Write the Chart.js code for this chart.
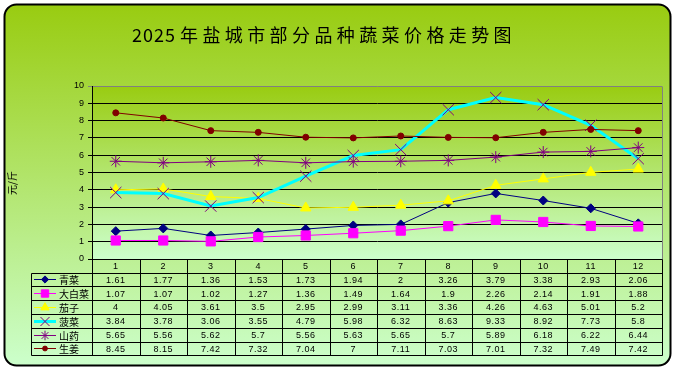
<!DOCTYPE html>
<html>
<head>
<meta charset="utf-8">
<script src="https://cdn.jsdelivr.net/npm/chart.js"></script>
<style>
  body { margin: 0; background: #fff; }
  canvas { display: block; }
</style>
</head>
<body>
<canvas id="priceChart" width="677" height="370"></canvas>
<script>
const months = ["1", "2", "3", "4", "5", "6", "7", "8", "9", "10", "11", "12"];
const seriesNames = ["青菜", "大白菜", "茄子", "菠菜", "山药", "生姜"];

const qingcai = [1.61, 1.77, 1.36, 1.53, 1.73, 1.94, 2, 3.26, 3.79, 3.38, 2.93, 2.06];
const dabaicai = [1.07, 1.07, 1.02, 1.27, 1.36, 1.49, 1.64, 1.9, 2.26, 2.14, 1.91, 1.88];
const qiezi = [4, 4.05, 3.61, 3.5, 2.95, 2.99, 3.11, 3.36, 4.26, 4.63, 5.01, 5.2];
const bocai = [3.84, 3.78, 3.06, 3.55, 4.79, 5.98, 6.32, 8.63, 9.33, 8.92, 7.73, 5.8];
const shanyao = [5.65, 5.56, 5.62, 5.7, 5.56, 5.63, 5.65, 5.7, 5.89, 6.18, 6.22, 6.44];
const shengjiang = [8.45, 8.15, 7.42, 7.32, 7.04, 7, 7.11, 7.03, 7.01, 7.32, 7.49, 7.42];

const seriesValues = [qingcai, dabaicai, qiezi, bocai, shanyao, shengjiang];

// line colour, marker style, marker colour, marker radius, line width
const styles = [
  { line: "#000080", style: "rectRot", mark: "#000080", r: 4.5, w: 1 },
  { line: "#ff00ff", style: "rect", mark: "#ff00ff", r: 6.5, w: 1 },
  { line: "#ffff00", style: "triangle", mark: "#ffff00", r: 6, w: 1 },
  { line: "#00ffff", style: "crossRot", mark: "#800080", r: 8, w: 3 },
  { line: "#800080", style: "star", mark: "#800080", r: 6, w: 1 },
  { line: "#800000", style: "circle", mark: "#800000", r: 3, w: 1 },
];

const datasets = seriesNames.map((name, i) => {
  const s = styles[i];
  return {
    label: name,
    data: seriesValues[i],
    borderColor: s.line,
    borderWidth: s.w,
    pointStyle: s.style,
    pointRadius: s.r,
    pointBackgroundColor: s.mark,
    pointBorderColor: s.mark,
    pointBorderWidth: 1,
    tension: 0,
    order: seriesNames.length - i,
  };
});

function drawMarker(ctx, s, x, y, scale) {
  ctx.save();
  ctx.fillStyle = s.mark;
  ctx.strokeStyle = s.mark;
  ctx.lineWidth = 1;
  if (Chart.helpers && Chart.helpers.drawPoint) {
    Chart.helpers.drawPoint(ctx, { pointStyle: s.style, radius: s.r * scale, rotation: 0, borderWidth: 1 }, x, y);
  } else {
    ctx.beginPath();
    ctx.arc(x, y, 3, 0, Math.PI * 2);
    ctx.fill();
  }
  ctx.restore();
}

const framePlugin = {
  id: "frame",
  beforeDraw(chart) {
    const ctx = chart.ctx;
    const area = chart.chartArea;
    ctx.save();
    ctx.fillStyle = "#fff";
    ctx.fillRect(0, 0, chart.width, chart.height);

    // outer rounded panel
    const g = ctx.createLinearGradient(0, 5, 0, 366);
    g.addColorStop(0, "#99cc11");
    g.addColorStop(1, "#ccffcc");
    ctx.beginPath();
    ctx.roundRect(4.5, 4.5, 666, 361, 12);
    ctx.fillStyle = g;
    ctx.fill();
    ctx.lineWidth = 2;
    ctx.strokeStyle = "#000";
    ctx.stroke();

    // plot area
    const pg = ctx.createLinearGradient(0, area.top, 0, area.bottom);
    pg.addColorStop(0, "#99cc11");
    pg.addColorStop(1, "#ccffcc");
    ctx.fillStyle = pg;
    ctx.fillRect(area.left, area.top, area.right - area.left, area.bottom - area.top);

    // title: digits tight, CJK spaced out
    ctx.fillStyle = "#000";
    ctx.font = '18px "Noto Sans CJK SC"';
    ctx.textBaseline = "middle";
    ctx.textAlign = "left";
    ctx.letterSpacing = "1px";
    ctx.fillText("2025", 132, 35);
    ctx.letterSpacing = "4.4px";
    ctx.fillText("年盐城市部分品种蔬菜价格走势图", 180, 35);
    ctx.letterSpacing = "0px";

    // y axis title
    ctx.translate(12, 183);
    ctx.rotate(-Math.PI / 2);
    ctx.textAlign = "center";
    ctx.font = '10px "Noto Sans CJK SC"';
    ctx.fillText("元/斤", 0, 0);
    ctx.restore();
  },
  afterDraw(chart) {
    const ctx = chart.ctx;
    const area = chart.chartArea;
    const xs = chart.scales.x;
    const colW = (area.right - area.left) / months.length;
    const top = Math.round(area.bottom) + 0.5;
    const headH = 13;
    const rowH = 13.8;
    const legendLeft = 31.5;
    const right = Math.round(area.right) + 0.5;

    ctx.save();
    // gray plot border right
    ctx.strokeStyle = "#808080";
    ctx.lineWidth = 1;
    ctx.beginPath();
    ctx.moveTo(right, Math.round(area.top) + 0.5);
    ctx.lineTo(right, top);
    ctx.stroke();

    ctx.strokeStyle = "#000";
    ctx.beginPath();
    ctx.moveTo(Math.round(area.left) + 0.5, top);
    ctx.lineTo(right, top);
    for (let r = 0; r <= seriesNames.length; r++) {
      const y = Math.round(top + headH + r * rowH) + 0.5;
      ctx.moveTo(legendLeft, y);
      ctx.lineTo(right, y);
    }
    const bottom = Math.round(top + headH + seriesNames.length * rowH) + 0.5;
    for (let c = 0; c <= months.length; c++) {
      const x = Math.round(area.left + c * colW) + 0.5;
      ctx.moveTo(x, top);
      ctx.lineTo(x, bottom);
    }
    ctx.moveTo(legendLeft, Math.round(top + headH) + 0.5);
    ctx.lineTo(legendLeft, bottom);
    ctx.stroke();

    ctx.fillStyle = "#000";
    ctx.textAlign = "center";
    ctx.textBaseline = "middle";
    ctx.font = '9px "Liberation Sans"';
    ctx.letterSpacing = "0.5px";
    months.forEach((m, c) => {
      ctx.fillText(m, xs.getPixelForValue(c), top + headH / 2 + 1);
    });
    seriesValues.forEach((vals, r) => {
      const yc = top + headH + r * rowH + rowH / 2 + 1;
      vals.forEach((v, c) => {
        ctx.fillText(String(v), xs.getPixelForValue(c), yc);
      });
    });
    ctx.letterSpacing = "0px";

    // legend keys in first column
    seriesNames.forEach((name, r) => {
      const s = styles[r];
      const yc = Math.round(top + headH + r * rowH + rowH / 2) + 0.5;
      ctx.strokeStyle = s.line;
      ctx.lineWidth = s.w;
      ctx.beginPath();
      ctx.moveTo(34, yc);
      ctx.lineTo(56, yc);
      ctx.stroke();
      drawMarker(ctx, s, 45, yc, 0.8);
      ctx.fillStyle = "#000";
      ctx.textAlign = "left";
      ctx.font = '10px "Noto Sans CJK SC"';
      ctx.fillText(name, 59, yc + 0.5);
    });
    ctx.restore();
  },
};

new Chart(document.getElementById("priceChart"), {
  type: "line",
  data: { labels: months, datasets },
  options: {
    responsive: false,
    animation: false,
    layout: { padding: { left: 0, top: 86, right: 15, bottom: 111 } },
    plugins: {
      legend: { display: false },
      tooltip: { enabled: false },
    },
    scales: {
      x: {
        display: false,
        offset: true,
      },
      y: {
        min: 0,
        max: 10,
        ticks: {
          stepSize: 1,
          color: "#000",
          padding: 4,
          font: { size: 9, family: "Liberation Sans" },
        },
        grid: {
          color: (c) => (c.tick && c.tick.value === 10 ? "#808080" : "#000"),
          tickLength: 4,
        },
        border: { color: "#000" },
        afterFit: (s) => {
          s.width = 92;
        },
      },
    },
  },
  plugins: [framePlugin],
});
</script>
</body>
</html>
